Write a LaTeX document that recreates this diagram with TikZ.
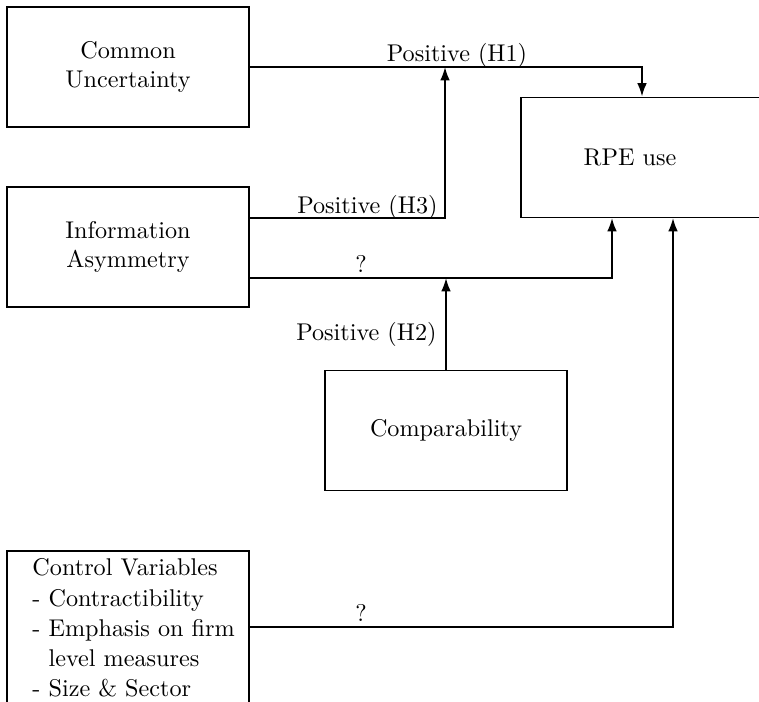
\documentclass[tikz,border=0pt]{standalone}
\usetikzlibrary{arrows.meta}
\begin{document}
\begin{tikzpicture}[x=0.4133pt, y=-0.4133pt,
    box/.style={draw, line width=0.8pt, rectangle, minimum width=100pt,
                minimum height=49.6pt, inner sep=0pt, align=center},
    link/.style={line width=0.8pt, -{Latex[length=5.5pt,width=4pt]}},
    lbl/.style={inner sep=0pt}]
  \useasboundingbox (0,0) rectangle (759,701);

  % boxes
  \node[box] (cu)   at (128,67)    {Common\\Uncertainty};
  \node[box] (ia)   at (128,247)   {Information\\Asymmetry};
  \node[box] (rpe)  at (642,157.5) {};
  \node[lbl] (rpetext) at (630,157.5) {RPE use};
  \node[box] (comp) at (446,430.5) {Comparability};
  \node[box, minimum height=62.8pt] (ctrl) at (128,627) {};
  \node[lbl, align=left, anchor=west,
        font=\fontsize{10pt}{12.5pt}\selectfont] (ctrltext) at (32,628)
    {Control Variables\\
     - Contractibility\\
     - Emphasis on firm\\
     \hphantom{- }level measures\\
     - Size \& Sector};

  % junction points on the boxes and lines
  \coordinate (iaA)  at (249,218);
  \coordinate (iaB)  at (249,278);
  \coordinate (h1j)  at (445,67);
  \coordinate (rpeB) at (612,218);
  \coordinate (rpeC) at (673,218);

  % connectors
  \draw[link] (cu.east) -| (rpe.north);
  \draw[link] (iaA) -| (h1j);
  \draw[link] (iaB) -| (rpeB);
  \draw[link] (comp.north) -- (comp.north |- iaB);
  \draw[link] (ctrl.east) -| (rpeC);

  % connector labels
  \node[lbl, anchor=base] (l1) at (457,62) {Positive (H1)};
  \node[lbl, anchor=base east] (l3) at (438,213) {Positive (H3)};
  \node[lbl, anchor=base] (lq1) at (361,272) {?};
  \node[lbl, anchor=base east] (l2) at (437,340) {Positive (H2)};
  \node[lbl, anchor=base] (lq2) at (361,621) {?};
\end{tikzpicture}
\end{document}
